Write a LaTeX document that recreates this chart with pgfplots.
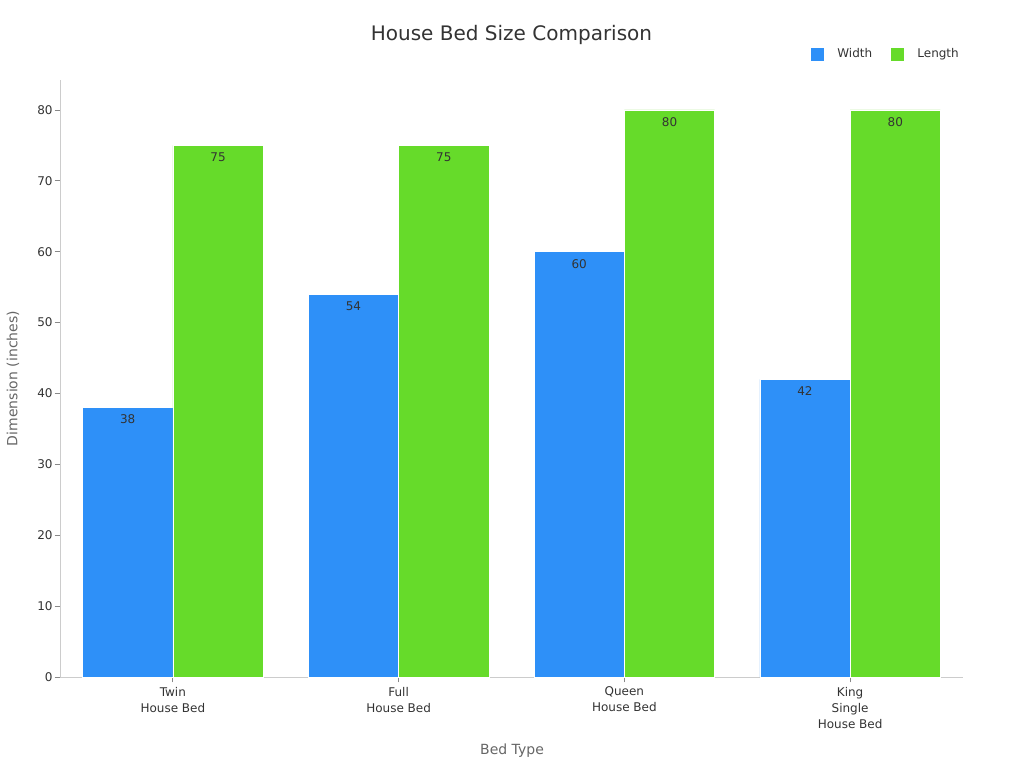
\documentclass[border=0pt]{standalone}
\usepackage{fontspec}
\setmainfont{DejaVu Sans}
\usepackage{pgfplots}
\pgfplotsset{compat=1.18}
\definecolor{wblue}{HTML}{2E90F8}
\definecolor{lgreen}{HTML}{66DB2A}
\definecolor{axgray}{HTML}{CCCCCC}
\definecolor{tickgray}{HTML}{888888}
\definecolor{txt}{HTML}{333333}
\definecolor{lbl}{HTML}{666666}
\begin{document}
\begin{tikzpicture}
\path[use as bounding box] (0,0) rectangle (768pt,576pt);
\begin{axis}[
  at={(45pt,68.25pt)}, anchor=south west,
  scale only axis, width=677.25pt, height=447.75pt,
  ybar=0pt, bar width=0.4,
  xmin=-0.5, xmax=3.5, ymin=0, ymax=84.23,
  axis lines=left, axis line style={draw=axgray,-},
  ytick={0,10,...,80}, xtick={0,1,2,3},
  xticklabels={{Twin\\House Bed},{Full\\House Bed},{Queen\\House Bed},{King\\Single\\House Bed}},
  xticklabel style={align=center,font=\fontsize{9}{12}\selectfont,text=txt},
  yticklabel style={font=\fontsize{9}{11}\selectfont,text=txt,xshift=2pt},
  /pgf/number format/assume math mode=true,
  tick style={draw=tickgray, line width=0.6pt},
  tick align=outside, major tick length=4pt,
  xlabel={Bed Type},
  xlabel style={at={(axis description cs:0.5006,-0.124)}, anchor=center, font=\fontsize{10.5}{12}\selectfont, text=lbl},
  ylabel={Dimension (inches)},
  ylabel style={at={(axis description cs:-0.052,0.5)}, anchor=center, font=\fontsize{10.5}{12}\selectfont, text=lbl},
  title={House Bed Size Comparison},
  title style={at={(axis description cs:0.5,1.062)}, anchor=center, font=\fontsize{15}{18}\selectfont, text=txt},
  legend columns=2,
  legend style={draw=none, fill=none, at={(axis description cs:1.003,1.043)}, anchor=east,
    font=\fontsize{9}{11}\selectfont, text=txt,
    /tikz/every odd column/.append style={column sep=8.5pt},
    /tikz/every even column/.append style={column sep=12pt}},
  nodes near coords,
  every node near coord/.append style={anchor=north, yshift=-2pt, font=\fontsize{9}{11}\selectfont, text=txt},
]
\addplot[fill=wblue, draw=white, line width=0.4pt,
  legend image code/.code={\fill[wblue] (0pt,-4.5pt) rectangle (9pt,4.5pt);}]
  coordinates {(0,38) (1,54) (2,60) (3,42)};
\addplot[fill=lgreen, draw=white, line width=0.4pt,
  legend image code/.code={\fill[lgreen] (0pt,-4.5pt) rectangle (9pt,4.5pt);}]
  coordinates {(0,75) (1,75) (2,80) (3,80)};
\legend{Width, Length}
\end{axis}
\end{tikzpicture}
\end{document}
